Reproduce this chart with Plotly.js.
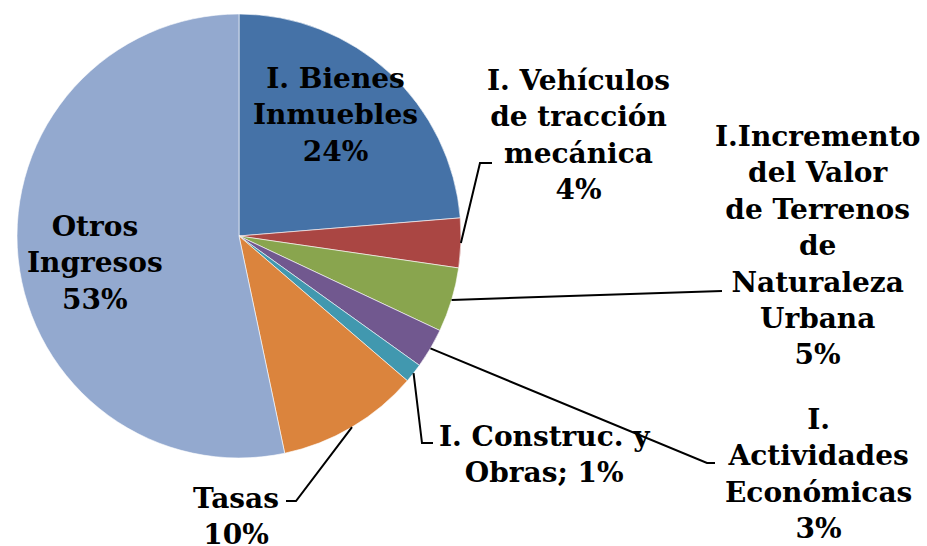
<!DOCTYPE html>
<html>
<head>
<meta charset="utf-8">
<script src="https://cdn.plot.ly/plotly-3.0.1.min.js"></script>
<style>
  html, body { margin: 0; padding: 0; background: #fff; }
  #chart { width: 927px; height: 546px; }
</style>
</head>
<body>
<div id="chart"></div>
<script>
const labels = [
  'I. Bienes<br>Inmuebles',
  'I. Vehículos<br>de tracción<br>mecánica',
  'I.Incremento<br>del Valor<br>de Terrenos<br>de<br>Naturaleza<br>Urbana',
  'I.<br>Actividades<br>Económicas',
  'I. Construc. y<br>Obras',
  'Tasas',
  'Otros<br>Ingresos'
];
const values = [23.7, 3.6, 4.7, 2.9, 1.4, 10.4, 53.3];
const colors = ['#4572A7', '#AA4643', '#89A54E', '#71588F', '#4198AF', '#DB843D', '#93A9CF'];
// separator between name and percent
const seps = ['<br>', '<br>', '<br>', '<br>', '; ', '<br>', '<br>'];

// label placement (pixels): text centre, and leader line bend / end (null = inside label)
const labelPos = [[335, 115], [578, 135], [817, 246], [818, 474], [544, 454], [236, 516], [95, 263]];
const leaders = [null, [[480, 163], [492, 163]], [[722, 291], [722, 291]], [[707, 463], [715, 463]],
                 [[422, 443], [433, 443]], [[296, 501], [286, 501]], null];

const W = 927, H = 546;
const cx = 239, cy = 236, R = 222;
const px = x => x / W;
const py = y => 1 - y / H;

const total = values.reduce((a, b) => a + b, 0);
const pct = values.map(v => Math.round(v / total * 100));

const annotations = [];
const shapes = [];
let cum = 0;
values.forEach((v, i) => {
  const mid = (cum + v / 2) / total * 2 * Math.PI;
  cum += v;
  annotations.push({
    xref: 'paper', yref: 'paper',
    x: px(labelPos[i][0]), y: py(labelPos[i][1]),
    xanchor: 'center', yanchor: 'middle',
    text: labels[i] + seps[i] + pct[i] + '%',
    showarrow: false, align: 'center',
    font: {family: 'DejaVu Serif', size: 28, color: '#000', weight: 'bold'}
  });
  if (leaders[i]) {
    const sx = cx + R * Math.sin(mid), sy = cy - R * Math.cos(mid);
    const b = leaders[i][0], e = leaders[i][1];
    shapes.push({
      type: 'path', xref: 'paper', yref: 'paper',
      path: `M ${px(sx)},${py(sy)} L ${px(b[0])},${py(b[1])} L ${px(e[0])},${py(e[1])}`,
      line: {color: '#000', width: 2}
    });
  }
});

const data = [{
  type: 'pie',
  labels: labels,
  values: values,
  sort: false,
  direction: 'clockwise',
  rotation: 0,
  textinfo: 'none',
  hoverinfo: 'label+percent',
  marker: {colors: colors, line: {color: '#ffffff', width: 0.6}},
  domain: {x: [px(cx - R), px(cx + R)], y: [py(cy + R), py(cy - R)]}
}];

const layout = {
  width: W,
  height: H,
  margin: {l: 0, r: 0, t: 0, b: 0},
  showlegend: false,
  paper_bgcolor: '#fff',
  annotations: annotations,
  shapes: shapes
};

Plotly.newPlot('chart', data, layout, {displayModeBar: false});
</script>
</body>
</html>
